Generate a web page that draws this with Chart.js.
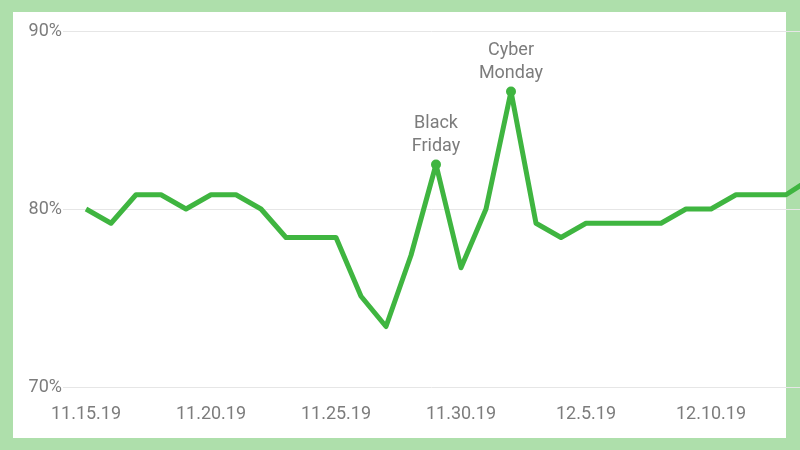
<!DOCTYPE html>
<html>
<head>
<meta charset="utf-8">
<script src="https://cdn.jsdelivr.net/npm/chart.js@4/dist/chart.umd.min.js"></script>
<style>
  html, body { margin: 0; padding: 0; background: #fff; overflow: hidden; }
  #chart { display: block; }
</style>
</head>
<body>
<canvas id="chart" width="800" height="450"></canvas>
<script>
const dates = ['11.15.19', '11.16.19', '11.17.19', '11.18.19', '11.19.19', '11.20.19', '11.21.19', '11.22.19',
  '11.23.19', '11.24.19', '11.25.19', '11.26.19', '11.27.19', '11.28.19', '11.29.19', '11.30.19',
  '12.1.19', '12.2.19', '12.3.19', '12.4.19', '12.5.19', '12.6.19', '12.7.19', '12.8.19',
  '12.9.19', '12.10.19', '12.11.19', '12.12.19', '12.13.19', '12.14.19'];
const rates = [80.0, 79.2, 80.8, 80.8, 80.0, 80.8, 80.8, 80.0,
  78.4, 78.4, 78.4, 75.1, 73.4, 77.4, 82.5, 76.7,
  80.0, 86.6, 79.2, 78.4, 79.2, 79.2, 79.2, 79.2,
  80.0, 80.0, 80.8, 80.8, 80.8, 81.7];
const tickDays = [0, 5, 10, 15, 20, 25];
const yTicks = [70, 80, 90];
const eventDays = [14, 17];
const eventNames = [['Black', 'Friday'], ['Cyber', 'Monday']];

const GREEN = '#3fb540';
const FRAME = '#aedfab';
const TEXT = '#7c7c7c';
const FONT = 'Roboto, "Noto Sans", sans-serif';

// green frame around the white card, drawn under everything else
const framePlugin = {
  id: 'frame',
  beforeDraw(chart) {
    const c = chart.ctx;
    c.save();
    c.fillStyle = FRAME;
    c.fillRect(0, 0, chart.width, chart.height);
    c.fillStyle = '#fff';
    c.fillRect(13, 12, 786 - 13, 438 - 12);
    c.restore();
  }
};

// labels above the two peaks
const eventPlugin = {
  id: 'events',
  afterDatasetsDraw(chart) {
    const c = chart.ctx;
    const meta = chart.getDatasetMeta(0);
    c.save();
    c.font = '18px ' + FONT;
    c.fillStyle = TEXT;
    c.textAlign = 'center';
    c.textBaseline = 'alphabetic';
    eventDays.forEach((d, i) => {
      const pt = meta.data[d];
      const lines = eventNames[i];
      lines.forEach((l, j) => {
        const y = pt.y - 14 - (lines.length - 1 - j) * 23;
        c.fillText(l, pt.x, y);
      });
    });
    c.restore();
  }
};

new Chart(document.getElementById('chart').getContext('2d'), {
  type: 'line',
  data: {
    datasets: [{
      data: rates.map((v, i) => ({ x: i, y: v })),
      borderColor: GREEN,
      backgroundColor: GREEN,
      borderWidth: 5,
      borderJoinStyle: 'round',
      tension: 0,
      fill: false,
      clip: false,
      pointRadius: ctx => eventDays.includes(ctx.dataIndex) ? 5 : 0,
      pointBorderWidth: 0,
      pointBackgroundColor: GREEN
    }]
  },
  options: {
    responsive: false,
    animation: false,
    devicePixelRatio: 1,
    layout: { padding: { top: 31, right: 0, left: 0, bottom: 0 } },
    plugins: { legend: { display: false }, tooltip: { enabled: false } },
    scales: {
      x: {
        type: 'linear',
        min: (63 - 86) / 25,
        max: (800 - 86) / 25,
        afterBuildTicks: s => { s.ticks = tickDays.map(v => ({ value: v })); },
        afterFit: s => { s.height = 450 - 387; },
        grid: { display: false },
        border: { display: false },
        ticks: {
          padding: 9,
          maxRotation: 0,
          autoSkip: false,
          color: TEXT,
          font: { family: FONT, size: 18 },
          callback: v => dates[v]
        }
      },
      y: {
        min: 70,
        max: 90,
        afterBuildTicks: s => { s.ticks = yTicks.map(v => ({ value: v })); },
        afterFit: s => { s.width = 63; },
        grid: { color: '#e6e6e6', lineWidth: 1, drawTicks: false },
        border: { display: false },
        ticks: {
          padding: 1,
          color: TEXT,
          font: { family: FONT, size: 18 },
          callback: v => v + '%'
        }
      }
    }
  },
  plugins: [framePlugin, eventPlugin]
});
</script>
</body>
</html>
